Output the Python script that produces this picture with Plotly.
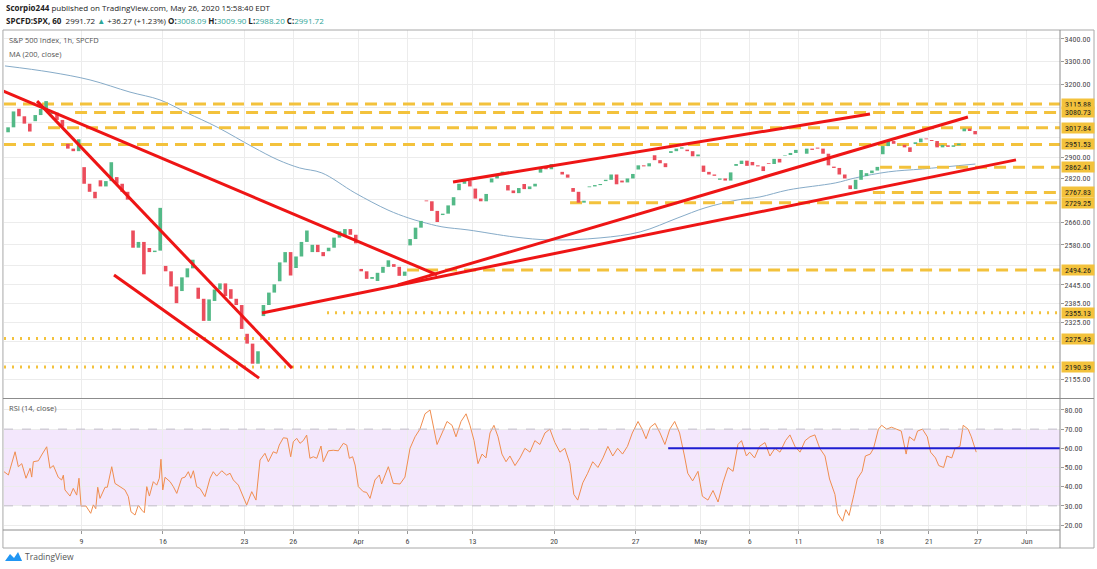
import numpy as np
import pandas as pd
import plotly.graph_objects as go

# ---------------- calendar / ticks ----------------
holidays = ["2020-04-10", "2020-05-25"]
sessions = [d.strftime("%Y-%m-%d") for d in pd.bdate_range("2020-03-02", "2020-06-05")
            if d.strftime("%Y-%m-%d") not in holidays]
origin = sessions.index("2020-03-09")


def day_pos(date):
    return sessions.index(date) - origin


tick_dates = ["2020-03-09", "2020-03-16", "2020-03-23", "2020-03-26", "2020-04-01", "2020-04-06",
              "2020-04-13", "2020-04-20", "2020-04-27", "2020-05-01", "2020-05-06", "2020-05-11",
              "2020-05-18", "2020-05-21", "2020-05-27", "2020-06-01"]
tick_text = ["9", "16", "23", "26", "Apr", "6", "13", "20", "27", "May", "6", "11", "18", "21", "27", "Jun"]

# ---------------- price data (3 candles per session) ----------------
day_dates = [d for d in sessions if d <= "2020-05-26"]
day_opens = [3000, 3096, 3045, 3075, 2954, 2863, 2813, 2825, 2630, 2569,
             2508, 2425, 2436, 2393, 2431, 2290, 2345, 2457, 2501, 2555,
             2558, 2614, 2498, 2458, 2514, 2578, 2738, 2685, 2776, 2782,
             2805, 2795, 2799, 2842, 2845, 2784, 2787, 2810, 2812, 2854,
             2909, 2918, 2931, 2869, 2815, 2868, 2883, 2878, 2908, 2915,
             2939, 2865, 2794, 2829, 2913, 2948, 2953, 2969, 2948, 3004]
day_closes = [
    [3020, 3085],
    [3065, 3035, 3003], [3070, 3095, 3128], [3080, 3050, 3023], [2935, 2925, 2972],
    [2800, 2770, 2746], [2790, 2810, 2882], [2800, 2770, 2741], [2570, 2590, 2480], [2555, 2560, 2711],
    [2490, 2440, 2386], [2470, 2500, 2529], [2400, 2330, 2398], [2430, 2450, 2409], [2400, 2380, 2305],
    [2260, 2200, 2237], [2380, 2420, 2447], [2520, 2555, 2476], [2540, 2590, 2630], [2580, 2555, 2541],
    [2570, 2605, 2627], [2635, 2615, 2585], [2490, 2465, 2471], [2485, 2505, 2527], [2505, 2475, 2489],
    [2600, 2640, 2664], [2735, 2700, 2660], [2690, 2720, 2750], [2800, 2812, 2790],
    [2745, 2735, 2762], [2820, 2835, 2846], [2775, 2765, 2784], [2780, 2790, 2800], [2860, 2855, 2875],
    [2845, 2835, 2823], [2770, 2730, 2737], [2790, 2795, 2799], [2815, 2835, 2798], [2805, 2820, 2837],
    [2870, 2866, 2878], [2890, 2878, 2863], [2925, 2935, 2940], [2925, 2905, 2912], [2845, 2835, 2830],
    [2820, 2812, 2843], [2875, 2888, 2868], [2870, 2866, 2848], [2875, 2895, 2881], [2910, 2918, 2930],
    [2915, 2935, 2930], [2935, 2915, 2870], [2860, 2835, 2820], [2780, 2815, 2852], [2840, 2850, 2864],
    [2945, 2965, 2954], [2950, 2940, 2922], [2960, 2975, 2972], [2965, 2940, 2949], [2942, 2948, 2955],
    [3015, 3005, 2991.72],
]

# MA(200) line, x in trading-day units from Mar 9
ma_x = [-4.69, -1.93, 0.53, 2.98, 4.82, 6.48, 8.32, 10.53, 12.06, 13.39, 14.75, 16.78, 18.81, 20.04,
        20.9, 22.12, 23.72, 26.6, 28.75, 31.82, 34.28, 36.6, 38.26, 40.28, 41.63, 43.37, 46.25, 47.48,
        49.51, 51.6, 54.85]
ma_v = [3279, 3252, 3218, 3166, 3133, 3079, 3021, 2941, 2891, 2860, 2841, 2766, 2703, 2675, 2660,
        2643, 2632, 2607, 2597, 2604, 2625, 2675, 2711, 2740, 2751, 2777, 2803, 2822, 2845, 2856, 2875]

# RSI(14)
rsi_x = [-4.75, -4.48, -4.07, -3.87, -3.66, -3.40, -3.15, -3.05, -2.95, -2.64, -2.44, -2.13, -1.93, -1.72,
         -1.42, -1.21, -1.11, -1.01, -0.70, -0.50, -0.29, -0.15, -0.02, 0.28, 0.57, 0.73, 0.88, 1.0,
         1.14, 1.45, 1.59, 1.86, 2.06, 2.37, 2.67, 2.88, 3.04, 3.29, 3.49, 3.70, 3.86, 4.01, 4.17,
         4.41, 4.62, 4.78, 4.88, 4.99, 5.13, 5.44, 5.64, 5.85, 6.15, 6.36, 6.56, 6.71, 6.87, 7.07,
         7.28, 7.58, 7.89, 8.09, 8.30, 8.61, 8.91, 9.12, 9.32, 9.63, 9.93, 10.14, 10.45, 10.71, 10.96,
         11.26, 11.47, 11.77, 11.98, 12.14, 12.39, 12.63, 12.84, 13.0, 13.21, 13.41, 13.61, 13.82,
         14.02, 14.23, 14.44, 14.70, 14.84, 15.15, 15.45, 15.76, 16.07, 16.28, 16.44, 16.64, 16.79,
         16.99, 17.29, 17.50, 17.71, 18.01, 18.28, 18.42, 18.83, 19.13, 19.55,
         19.85, 20.16, 20.47, 20.77, 21.08, 21.39, 21.57, 21.82, 22.13, 22.43, 22.74, 22.98, 23.29,
         23.60, 23.84, 24.09, 24.33, 24.58, 24.82, 25.07, 25.31, 25.56, 25.80, 26.05, 26.29, 26.60,
         26.91, 27.21, 27.52, 27.82, 28.13, 28.44, 28.74, 29.05, 29.36, 29.66, 29.97, 30.21, 30.45,
         30.76, 31.06, 31.37, 31.69, 32.0, 32.3, 32.6, 32.9, 33.2, 33.5, 33.8, 34.15, 34.4, 34.64,
         34.9, 35.2, 35.5, 35.8, 36.1, 36.4, 36.7, 37.0, 37.2, 37.5, 37.83, 38.1, 38.44, 38.75, 39.06,
         39.36, 39.67, 39.98, 40.28, 40.5, 40.8, 41.0, 41.3, 41.6, 41.94, 42.24, 42.55, 42.86, 43.2,
         43.47, 43.78, 44.09, 44.4, 44.7, 45.0, 45.3, 45.62, 45.9, 46.23, 46.4, 46.7, 46.9, 47.1,
         47.4, 47.6, 47.9, 48.1, 48.4, 48.6, 48.9, 49.1, 49.4, 49.7, 50.0, 50.3, 50.6, 50.8, 51.1,
         51.3, 51.6, 51.9, 52.1, 52.4, 52.6, 52.9, 53.1, 53.4, 53.6, 53.9, 54.1, 54.4, 54.6, 54.9]
rsi_v = [47.8, 46.1, 58.2, 50.4, 52, 44.4, 49.6, 45, 53.0, 53.5, 56.5, 60.8, 49.6, 51,
         44.9, 43.5, 46, 38.3, 35.1, 39.1, 35.6, 44.4, 29.9, 29.9, 26.1, 30.5, 28.5, 39.7,
         33.9, 39.7, 39.7, 50.4, 41.7, 40, 38.3, 34.8, 26.9, 25.2, 30.4, 27.8, 26.4, 40.0, 35.1,
         42.6, 40.8, 44.4, 54.3, 38.3, 44.9, 42.6, 40.0, 36.5, 44.4, 45, 47.8, 44.4, 48.3, 40.0,
         39, 34.8, 44.4, 47.8, 45.5, 48.3, 46, 47, 43.5, 40.8, 34.8, 30.4, 37.4, 33.0, 53.9,
         57.4, 53, 58.2, 57.4, 61.7, 65.5, 65.2, 55.6, 63.4, 65.2, 62.6, 64, 66.9,
         54.8, 55.6, 54.8, 61.2, 53.0, 58.7, 59, 58.7, 62.6, 61.7, 54.8, 55.6, 51.3,
         40.0, 37.4, 37, 33.9, 43.5, 46.1, 41.4, 50.4, 41.7, 41.4,
         45, 60, 66, 70, 78, 80, 72, 62, 68, 74, 72, 66, 74,
         78, 72, 64, 52, 57, 55, 68, 72, 66, 57, 53, 56, 51,
         55, 60, 58, 64, 62, 68, 70, 63, 58, 60, 52, 36, 33,
         42, 47, 53, 50, 55, 61, 56, 60, 57, 61, 68, 74, 70, 65,
         71, 73, 68, 62, 70, 74, 68, 56, 47, 43, 48, 35, 33, 38, 32,
         42, 50, 48, 62, 64, 56, 58, 55, 61, 63, 56, 60, 58, 64,
         67, 61, 58, 64, 66, 67, 60, 56, 44, 36, 26, 22, 28, 25,
         36, 44, 48, 56, 57, 60, 70, 72, 70, 71, 70, 69, 57, 66, 64,
         69, 70, 66, 58, 55, 51, 50, 56, 55, 60, 61, 72, 70, 66, 58]

# Drawings: trend lines (x in trading days, price)
trend_lines = [
    (-4.81, 3171, 21.82, 2478),
    (-2.72, 3128, 12.92, 2187),
    (2.0, 2478, 10.9, 2158),
    (11.08, 2355, 57.34, 2891),
    (19.42, 2445, 54.39, 3062),
    (22.8, 2807, 48.38, 3074),
]
levels = [3115.88, 3080.73, 3017.84, 2951.53, 2862.41, 2767.83, 2729.25, 2494.26, 2355.13, 2275.43, 2190.39]
level_start = [-4.75, -0.39, -2.05, -4.75, 49.0, 48.56, 29.98, 19.98, 15.07, -4.75, -4.75]
level_style = ["dash"] * 8 + ["dot"] * 3
rsi_level = 60
rsi_level_start = 36.0

price_ticks = [3400, 3300, 3200, 2900, 2820, 2660, 2580, 2445, 2385, 2325, 2155]
price_hidden_ticks = [3100, 3040, 2980, 2740, 2510, 2265, 2205]   # covered by the level labels
rsi_ticks = [20, 30, 40, 50, 60, 70, 80]

X0, X1 = -4.75, 60.04
FONT = "Open Sans"
NARROW = "Liberation Sans Narrow, Roboto Condensed, Roboto, sans-serif"
YEL = "#f3c23c"
RED = "#ee1515"

# ---------------- build candles ----------------
cx, co, cc = [], [], []
for date, op, closes in zip(day_dates, day_opens, day_closes):
    n = len(closes)
    prev = op
    for k, c in enumerate(closes):
        j = 3 - n + k
        cx.append(day_pos(date) + (j + 0.5) / 3)
        co.append(prev)
        cc.append(c)
        prev = c

up_x, up_y, dn_x, dn_y = [], [], [], []
for x, o, c in zip(cx, co, cc):
    if c >= o:
        up_x += [x, x, None]
        up_y += [o, c, None]
    else:
        dn_x += [x, x, None]
        dn_y += [o, c, None]

fig = go.Figure()

fig.add_trace(go.Scatter(x=ma_x, y=ma_v, mode="lines", line=dict(color="#86abc8", width=1, shape="spline"),
                         xaxis="x", yaxis="y", hoverinfo="skip"))

for p, s, st in zip(levels, level_start, level_style):
    dash = "12px,7px" if st == "dash" else "2px,6px"
    fig.add_trace(go.Scatter(x=[s, X1], y=[p, p], mode="lines",
                             line=dict(color=YEL, width=3, dash=dash), xaxis="x", yaxis="y", hoverinfo="skip"))

fig.add_trace(go.Scatter(x=up_x, y=up_y, mode="lines", line=dict(color="#53b987", width=3.6),
                         xaxis="x", yaxis="y", hoverinfo="skip"))
fig.add_trace(go.Scatter(x=dn_x, y=dn_y, mode="lines", line=dict(color="#eb4d5c", width=3.6),
                         xaxis="x", yaxis="y", hoverinfo="skip"))

for x0, p0, x1, p1 in trend_lines:
    fig.add_trace(go.Scatter(x=[x0, x1], y=[p0, p1], mode="lines", line=dict(color=RED, width=3),
                             xaxis="x", yaxis="y", hoverinfo="skip"))

fig.add_trace(go.Scatter(x=rsi_x, y=rsi_v, mode="lines", line=dict(color="#f08d4f", width=1),
                         xaxis="x", yaxis="y2", hoverinfo="skip"))
fig.add_trace(go.Scatter(x=[rsi_level_start, X1], y=[rsi_level, rsi_level], mode="lines",
                         line=dict(color="#1e1ed2", width=2), xaxis="x", yaxis="y2", hoverinfo="skip"))

grid = "#ececec"
axfont = dict(family=NARROW, size=8, color="#4a4a4a")
fig.update_layout(
    width=1097, height=569, margin=dict(l=4, r=37, t=30, b=39),
    paper_bgcolor="white", plot_bgcolor="white", showlegend=False,
    xaxis=dict(domain=[0, 1], anchor="y2", range=[X0, X1],
               tickvals=[day_pos(d) for d in tick_dates], ticktext=tick_text,
               showgrid=True, gridcolor=grid, gridwidth=1, zeroline=False, showline=False,
               ticks="outside", ticklen=3, tickcolor="#999", tickfont=axfont),
    yaxis=dict(domain=[0.264, 1], anchor="x", side="right", type="log",
               range=[np.log10(2101.2), np.log10(3440.7)],
               tickvals=price_ticks, ticktext=[f"{v:.2f}" for v in price_ticks],
               minor=dict(tickvals=price_hidden_ticks, showgrid=True, gridcolor=grid, ticks=""),
               showgrid=True, gridcolor=grid, zeroline=False, showline=False,
               ticks="outside", ticklen=3, tickcolor="#999", tickfont=axfont, ticklabelstandoff=-1),
    yaxis2=dict(domain=[0, 0.26], anchor="x", side="right", range=[17.4, 85.2],
                tickvals=rsi_ticks, ticktext=[f"{v:.2f}" for v in rsi_ticks],
                showgrid=True, gridcolor=grid, zeroline=False, showline=False,
                ticks="outside", ticklen=3, tickcolor="#999", tickfont=axfont, ticklabelstandoff=-1),
)

shapes = [
    dict(type="rect", xref="paper", yref="y2", x0=0, x1=1, y0=30, y1=70,
         fillcolor="#f3e7fc", line=dict(width=0), layer="below"),
    dict(type="line", xref="paper", yref="y2", x0=0, x1=1, y0=70, y1=70,
         line=dict(color="#c2bccb", width=1, dash="dash")),
    dict(type="line", xref="paper", yref="y2", x0=0, x1=1, y0=30, y1=30,
         line=dict(color="#c2bccb", width=1, dash="dash")),
    dict(type="rect", xref="paper", yref="paper", x0=-0.001, x1=1.0322, y0=-0.036, y1=1.0,
         line=dict(color="#a8a8a8", width=1)),
    dict(type="line", xref="paper", yref="paper", x0=1, x1=1, y0=-0.036, y1=1.0,
         line=dict(color="#8c8c8c", width=1)),
    dict(type="line", xref="paper", yref="paper", x0=-0.001, x1=1, y0=0, y1=0,
         line=dict(color="#8c8c8c", width=1)),
    dict(type="line", xref="paper", yref="paper", x0=-0.001, x1=1.0322, y0=0.263, y1=0.263,
         line=dict(color="#8c8c8c", width=1)),
    dict(type="path", xref="paper", yref="paper",
         path="M 0.001 -0.062 L 0.0057 -0.048 L 0.0095 -0.056 L 0.0133 -0.044 L 0.0171 -0.062 Z",
         fillcolor="#2196f3", line=dict(width=0)),
]
fig.update_layout(shapes=shapes)

ann = []
for p in levels:
    ann.append(dict(xref="paper", yref="y", x=1, y=np.log10(p), xanchor="left", yanchor="middle",
                    xshift=1, text=f"{p:.2f}", showarrow=False, bgcolor=YEL, width=32, height=10,
                    borderpad=0, font=dict(family=NARROW, size=8, color="#1a1a1a")))
teal = "#2ea597"
ann += [
    dict(xref="paper", yref="paper", x=0, y=1.044, xanchor="left", yanchor="middle", xshift=0,
         text="<b>Scorpio244</b> published on TradingView.com, May 26, 2020 15:58:40 EDT",
         showarrow=False, font=dict(family=FONT, size=8, color="#222")),
    dict(xref="paper", yref="paper", x=0, y=1.018, xanchor="left", yanchor="middle", xshift=0,
         text=(f"<b>SPCFD:SPX, 60</b>  2991.72 <span style='color:{teal}'>▲</span> +36.27 (+1.23%) "
               f"<b>O:</b><span style='color:{teal}'>3008.09</span> <b>H:</b><span style='color:{teal}'>3009.90</span> "
               f"<b>L:</b><span style='color:{teal}'>2988.20</span> <b>C:</b><span style='color:{teal}'>2991.72</span>"),
         showarrow=False, font=dict(family=FONT, size=8, color="#222")),
    dict(xref="paper", yref="paper", x=0, y=0.98, xanchor="left", yanchor="middle", xshift=3,
         text="S&P 500 Index, 1h, SPCFD", showarrow=False, font=dict(family=FONT, size=7.5, color="#555")),
    dict(xref="paper", yref="paper", x=0, y=0.952, xanchor="left", yanchor="middle", xshift=3,
         text="MA (200, close)", showarrow=False, font=dict(family=FONT, size=7.5, color="#555")),
    dict(xref="paper", yref="paper", x=0, y=0.244, xanchor="left", yanchor="middle", xshift=3,
         text="RSI (14, close)", showarrow=False, font=dict(family=FONT, size=7.5, color="#555")),
    dict(xref="paper", yref="paper", x=0.018, y=-0.053, xanchor="left", yanchor="middle",
         text="TradingView", showarrow=False, font=dict(family=FONT, size=8.5, color="#555")),
]
fig.update_layout(annotations=ann)

fig.write_html("out.html", config={"displayModeBar": False},
               post_script="document.body.style.margin='0';")
